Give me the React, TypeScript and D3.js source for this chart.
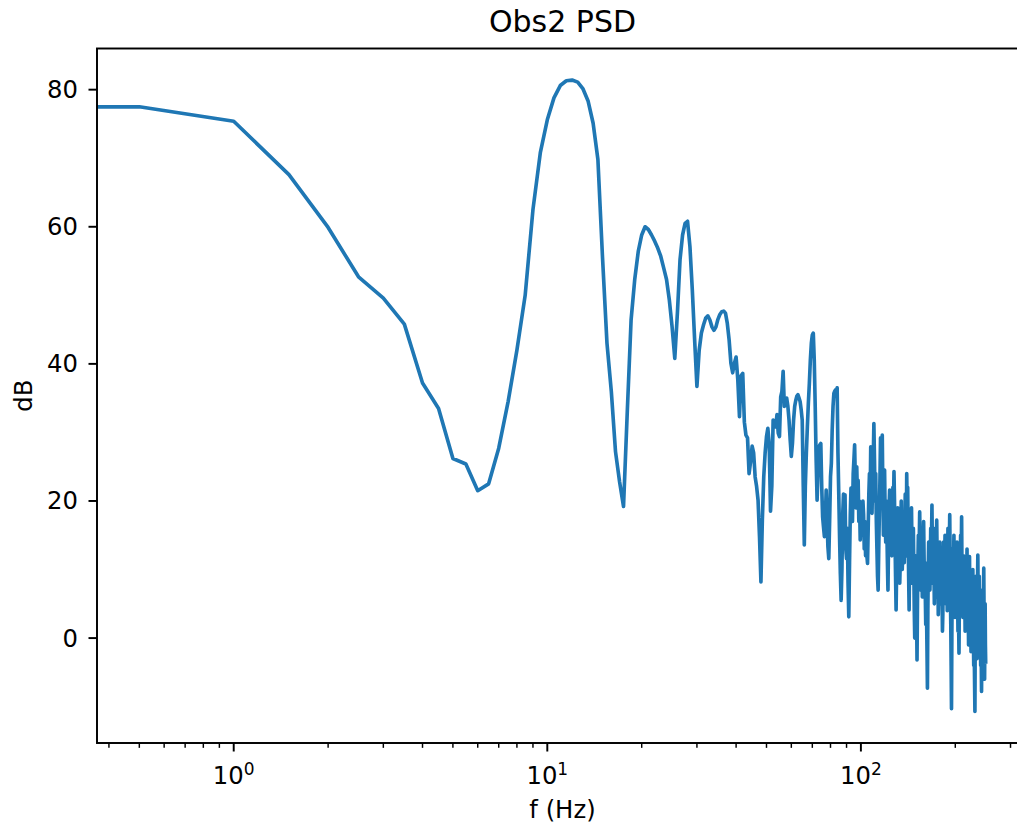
import React from 'react';
import * as d3 from 'd3';

// ---- data (dB), one value per 0.5 Hz bin starting at 0 Hz ----
const FREQ_STEP_HZ = 0.5;

// 0 – 86.5 Hz
const psdDbLow: number[] = [
  77.5, 77.5, 75.4, 67.6, 59.9, 52.7, 49.6, 45.8, 37.2, 33.5,
  26.2, 25.4, 21.5, 22.5, 27.7, 34.5, 42.0, 50.0, 62.5, 70.8,
  75.6, 78.8, 80.6, 81.3, 81.4, 81.1, 80.1, 78.3, 75.1, 69.8,
  55.5, 43.0, 36.0, 27.2, 22.8, 19.2, 33.3, 46.4, 52.3, 56.4,
  58.8, 60.0, 59.6, 58.8, 57.9, 56.9, 55.7, 54.0, 52.3, 49.3,
  45.4, 40.8, 47.5, 55.2, 58.8, 60.5, 60.8, 57.1, 50.8, 43.5,
  36.7, 42.0, 44.5, 45.7, 46.7, 47.0, 46.4, 45.4, 44.9, 45.4,
  46.5, 47.2, 47.6, 47.7, 47.4, 45.9, 43.5, 40.1, 38.7, 40.1,
  41.0, 37.7, 32.3, 38.3, 38.6, 31.5, 29.6, 29.2, 24.0, 25.8,
  28.0, 27.0, 23.5, 22.1, 20.1, 14.8, 8.2, 17.2, 23.5, 27.0,
  29.4, 30.6, 28.4, 18.5, 22.2, 31.8, 31.3, 30.8, 32.6, 29.9,
  29.4, 35.2, 36.0, 38.9, 33.8, 34.7, 35.0, 33.8, 31.8, 28.9,
  26.5, 28.4, 31.8, 33.8, 34.7, 35.3, 35.5, 35.0, 34.5, 33.3,
  31.8, 22.1, 13.6, 22.1, 27.0, 30.8, 34.3, 37.2, 40.6, 43.0,
  44.2, 44.5, 40.6, 33.8, 26.0, 20.1, 24.5, 27.9, 28.2, 28.4,
  22.1, 17.7, 16.2, 14.8, 17.2, 21.6, 17.2, 13.3, 11.6, 17.2,
  23.5, 25.5, 30.4, 33.8, 35.7, 36.0, 36.2, 36.0, 36.5, 27.0,
  21.1, 14.8, 9.4, 5.5,
];

// 87 – 250 Hz
const psdDbHigh: number[] = [
  10, 18, 21, 15, 20.9, 13, 11.6, 16, 8, 3.1, 11, 18, 21.9, 20, 17, 24, 26, 28.2, 23, 19, 25, 20.6, 23, 17, 20, 14.3,
  17, 19.4, 15, 20, 18, 13, 17, 12, 15, 12, 10.9, 16, 21, 24, 20, 27.9, 24, 18.2, 23, 26,
  31.3, 26, 20, 24, 17, 13, 9, 7.0, 13, 18, 23, 29.2, 24, 27, 29.6, 21, 15.0, 19, 24.5, 18,
  14, 20, 16, 11, 7.0, 14, 19, 21.6, 17, 20, 15, 12, 18, 22, 19, 24.3, 20, 14, 9, 4.1,
  10, 15, 19, 13, 17, 12, 8, 11, 16, 20, 14, 10, 13, 18, 15, 11, 16, 21, 17, 12,
  24, 18, 22, 15, 9, 4.1, 12, 17, 10, 14, 19, 13, 8, 12, 16, 10, 4, 0, 7, 12,
  9, 4, -3.2, 5, 11, 15, 10, 14, 18.4, 13, 7, 10, 15, 11, 6, 9, 14, 17, 12, 8,
  11, 6, 2, 8, 3, -2, -7.3, 4, 10, 14, 9, 13, 7, 11, 16, 12, 15, 19.4, 13, 8,
  12, 16, 10, 5, 9, 14, 11, 6, 13, 17.2, 12, 8, 11, 3.4, 7, 12, 9, 14, 10, 5,
  8, 13, 10, 6, 1, 3.4, 9, 14, 11, 7, 12, 15, 10, 5, 8, 13, 9, 4, 11, 16,
  12, 7, 10, 14, 18, 12, 6, 2, -4, -10.3, 0, 8, 13, 9, 5, 11, 15, 10, 6, 3,
  9, 13, 8, 4, 10, 14, 9, 5, 1, 6, 2, -2.2, 5, 10, 7, 12, 15, 9, 13, 17.7,
  11, 6, 9, 3, 7, 12, 8, 4, 10, 6, 1, 5, 11, 7, 3, 9, 13, 6, 2, 8,
  4, -1, 5, 9, 11.9, 6, 2, 7, 3, -2, 4, 8, 5, 1, 6, 10, 4, 0, -4, 3,
  -3, -7, -10.7, 0, 5, 9, 3, 7, 1, -3, 4, 8, 12.1, 6, 2, -2, 5, 9, 3, -1,
  4, 0, -4, 2, -3, -7.8, -1, 4, 7, 1, -3, 2, 6, 10.2, 4, -2, -6, 0, 5, -1,
  -3.5,
];

const yTickValues = [0, 20, 40, 60, 80];
const xMajorExponents = [0, 1, 2];
const titleText = 'Obs2 PSD';
const xLabelText = 'f (Hz)';
const yLabelText = 'dB';

// ---- layout ----
const W = 1017;
const H = 825;
const PX_PER_PT = 2.43;
const LEFT = 97;
const RIGHT = 1028;
const TOP = 48.5;
const BOTTOM = 743;
const FONT = '"DejaVu Sans", Verdana, sans-serif';
const TICK_FS = 10 * PX_PER_PT;
const TITLE_FS = 30;
const LINE_COLOR = '#1f77b4';

export default function App() {
  const psdDb = psdDbLow.concat(psdDbHigh);
  const freqs = psdDb.map((_, i) => i * FREQ_STEP_HZ);

  const posF = freqs.filter((f) => f > 0);
  const lx0 = Math.log10(d3.min(posF) as number);
  const lx1 = Math.log10(d3.max(posF) as number);
  const mx = 0.05 * (lx1 - lx0);
  const xDomain: [number, number] = [Math.pow(10, lx0 - mx), Math.pow(10, lx1 + mx)];
  const xScale = d3.scaleLog().domain(xDomain).range([LEFT, RIGHT]);

  const [ymin, ymax] = d3.extent(psdDb) as [number, number];
  const my = 0.05 * (ymax - ymin);
  const yScale = d3.scaleLinear().domain([ymin - my, ymax + my]).range([BOTTOM, TOP]);

  const line = d3
    .line<number>()
    .x((_, i) => xScale(Math.max(freqs[i], xDomain[0])))
    .y((d) => yScale(d));

  const allXTicks = xScale.ticks();
  const isMajor = (t: number) => Math.abs(Math.log10(t) - Math.round(Math.log10(t))) < 1e-9;
  const minorTicks = allXTicks.filter((t) => !isMajor(t));
  const majorTicks = xMajorExponents.map((e) => Math.pow(10, e));

  const spineW = 0.8 * PX_PER_PT;
  const majLen = 3.5 * PX_PER_PT;
  const minLen = 2 * PX_PER_PT;
  const minW = 0.6 * PX_PER_PT;
  const pad = 3.5 * PX_PER_PT;

  return (
    <div style={{ position: 'absolute', left: 0, top: 0, width: W, height: H, overflow: 'hidden', background: '#fff' }}>
      <svg width={W} height={H} style={{ display: 'block', overflow: 'hidden' }} fontFamily={FONT}>
        <rect x={0} y={0} width={W} height={H} fill="#fff" />
        <defs>
          <clipPath id="plotClip">
            <rect x={LEFT} y={TOP} width={RIGHT - LEFT} height={BOTTOM - TOP} />
          </clipPath>
        </defs>
        <path d={line(psdDb) || ''} fill="none" stroke={LINE_COLOR} strokeWidth={1.5 * PX_PER_PT}
          strokeLinejoin="round" strokeLinecap="square" clipPath="url(#plotClip)" />

        {/* spines */}
        <rect x={LEFT} y={TOP} width={RIGHT - LEFT} height={BOTTOM - TOP} fill="none" stroke="#000"
          strokeWidth={spineW} strokeLinejoin="miter" />

        {/* y ticks */}
        {yTickValues.map((v) => (
          <g key={'y' + v}>
            <line x1={LEFT - majLen} x2={LEFT} y1={yScale(v)} y2={yScale(v)} stroke="#000" strokeWidth={spineW} />
            <text x={LEFT - majLen - pad - 2} y={yScale(v)} textAnchor="end" dominantBaseline="central"
              fontSize={TICK_FS} fill="#000">{String(v)}</text>
          </g>
        ))}

        {/* x minor ticks */}
        {minorTicks.map((t) => (
          <line key={'m' + t} x1={xScale(t)} x2={xScale(t)} y1={BOTTOM} y2={BOTTOM + minLen} stroke="#000" strokeWidth={minW} />
        ))}
        {/* x major ticks */}
        {majorTicks.map((t, i) => (
          <g key={'M' + t}>
            <line x1={xScale(t)} x2={xScale(t)} y1={BOTTOM} y2={BOTTOM + majLen} stroke="#000" strokeWidth={spineW} />
            <text x={xScale(t)} y={784} textAnchor="middle" fontSize={TICK_FS} fill="#000">
              <tspan>10</tspan>
              <tspan fontSize={TICK_FS * 0.7} dy={-9}>{String(xMajorExponents[i])}</tspan>
            </text>
          </g>
        ))}

        {/* labels */}
        <text x={(LEFT + RIGHT) / 2} y={32} textAnchor="middle" fontSize={TITLE_FS} fill="#000">{titleText}</text>
        <text x={(LEFT + RIGHT) / 2} y={818} textAnchor="middle" fontSize={TICK_FS} fill="#000">{xLabelText}</text>
        <text transform={`translate(31.5, ${(TOP + BOTTOM) / 2}) rotate(-90)`} textAnchor="middle" fontSize={TICK_FS}
          fill="#000">{yLabelText}</text>
      </svg>
    </div>
  );
}
